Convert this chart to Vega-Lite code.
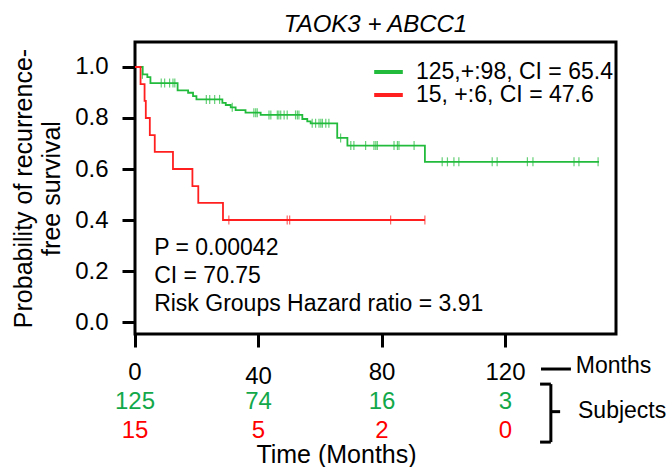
{
  "$schema": "https://vega.github.io/schema/vega-lite/v6.json",
  "padding": {"left": 10, "top": 11, "right": 0, "bottom": 0},
  "background": "white",
  "config": {
    "font": "Liberation Sans",
    "axis": {"labelColor": "black", "titleColor": "black", "tickColor": "black", "grid": false},
    "text": {"font": "Liberation Sans"}
  },
  "spacing": 5,
  "datasets": {
    "curves": [
      {"group": "125,+:98, CI = 65.4", "t": 0, "s": 1.0},
      {"group": "125,+:98, CI = 65.4", "t": 2.5, "s": 0.971},
      {"group": "125,+:98, CI = 65.4", "t": 4.0, "s": 0.96},
      {"group": "125,+:98, CI = 65.4", "t": 5.0, "s": 0.937},
      {"group": "125,+:98, CI = 65.4", "t": 13.8, "s": 0.908},
      {"group": "125,+:98, CI = 65.4", "t": 17.2, "s": 0.899},
      {"group": "125,+:98, CI = 65.4", "t": 18.8, "s": 0.886},
      {"group": "125,+:98, CI = 65.4", "t": 19.9, "s": 0.873},
      {"group": "125,+:98, CI = 65.4", "t": 28.3, "s": 0.859},
      {"group": "125,+:98, CI = 65.4", "t": 29.4, "s": 0.851},
      {"group": "125,+:98, CI = 65.4", "t": 31.0, "s": 0.842},
      {"group": "125,+:98, CI = 65.4", "t": 32.6, "s": 0.831},
      {"group": "125,+:98, CI = 65.4", "t": 35.8, "s": 0.821},
      {"group": "125,+:98, CI = 65.4", "t": 40.7, "s": 0.812},
      {"group": "125,+:98, CI = 65.4", "t": 54.2, "s": 0.796},
      {"group": "125,+:98, CI = 65.4", "t": 55.8, "s": 0.787},
      {"group": "125,+:98, CI = 65.4", "t": 56.9, "s": 0.779},
      {"group": "125,+:98, CI = 65.4", "t": 65.5, "s": 0.722},
      {"group": "125,+:98, CI = 65.4", "t": 68.8, "s": 0.692},
      {"group": "125,+:98, CI = 65.4", "t": 93.9, "s": 0.628},
      {"group": "125,+:98, CI = 65.4", "t": 150.3, "s": 0.628},
      {"group": "15, +:6, CI = 47.6", "t": 0, "s": 1.0},
      {"group": "15, +:6, CI = 47.6", "t": 1.8, "s": 0.933},
      {"group": "15, +:6, CI = 47.6", "t": 3.1, "s": 0.867},
      {"group": "15, +:6, CI = 47.6", "t": 3.5, "s": 0.8},
      {"group": "15, +:6, CI = 47.6", "t": 4.8, "s": 0.733},
      {"group": "15, +:6, CI = 47.6", "t": 6.4, "s": 0.667},
      {"group": "15, +:6, CI = 47.6", "t": 12.3, "s": 0.6},
      {"group": "15, +:6, CI = 47.6", "t": 18.6, "s": 0.533},
      {"group": "15, +:6, CI = 47.6", "t": 20.5, "s": 0.467},
      {"group": "15, +:6, CI = 47.6", "t": 28.5, "s": 0.4},
      {"group": "15, +:6, CI = 47.6", "t": 93.9, "s": 0.4}
    ],
    "censor": [
      {"group": "125,+:98, CI = 65.4", "t": 2.4, "s": 0.971},
      {"group": "125,+:98, CI = 65.4", "t": 8.5, "s": 0.937},
      {"group": "125,+:98, CI = 65.4", "t": 9.6, "s": 0.937},
      {"group": "125,+:98, CI = 65.4", "t": 11.2, "s": 0.937},
      {"group": "125,+:98, CI = 65.4", "t": 12.3, "s": 0.937},
      {"group": "125,+:98, CI = 65.4", "t": 12.9, "s": 0.937},
      {"group": "125,+:98, CI = 65.4", "t": 23.1, "s": 0.873},
      {"group": "125,+:98, CI = 65.4", "t": 24.2, "s": 0.873},
      {"group": "125,+:98, CI = 65.4", "t": 25.8, "s": 0.873},
      {"group": "125,+:98, CI = 65.4", "t": 27.4, "s": 0.873},
      {"group": "125,+:98, CI = 65.4", "t": 31.5, "s": 0.842},
      {"group": "125,+:98, CI = 65.4", "t": 38.5, "s": 0.821},
      {"group": "125,+:98, CI = 65.4", "t": 39.1, "s": 0.821},
      {"group": "125,+:98, CI = 65.4", "t": 39.6, "s": 0.821},
      {"group": "125,+:98, CI = 65.4", "t": 43.4, "s": 0.812},
      {"group": "125,+:98, CI = 65.4", "t": 44.0, "s": 0.812},
      {"group": "125,+:98, CI = 65.4", "t": 46.1, "s": 0.812},
      {"group": "125,+:98, CI = 65.4", "t": 46.6, "s": 0.812},
      {"group": "125,+:98, CI = 65.4", "t": 47.2, "s": 0.812},
      {"group": "125,+:98, CI = 65.4", "t": 48.3, "s": 0.812},
      {"group": "125,+:98, CI = 65.4", "t": 49.3, "s": 0.812},
      {"group": "125,+:98, CI = 65.4", "t": 52.0, "s": 0.812},
      {"group": "125,+:98, CI = 65.4", "t": 52.6, "s": 0.812},
      {"group": "125,+:98, CI = 65.4", "t": 53.1, "s": 0.812},
      {"group": "125,+:98, CI = 65.4", "t": 57.4, "s": 0.779},
      {"group": "125,+:98, CI = 65.4", "t": 58.5, "s": 0.779},
      {"group": "125,+:98, CI = 65.4", "t": 59.6, "s": 0.779},
      {"group": "125,+:98, CI = 65.4", "t": 60.2, "s": 0.779},
      {"group": "125,+:98, CI = 65.4", "t": 60.7, "s": 0.779},
      {"group": "125,+:98, CI = 65.4", "t": 61.8, "s": 0.779},
      {"group": "125,+:98, CI = 65.4", "t": 62.8, "s": 0.779},
      {"group": "125,+:98, CI = 65.4", "t": 66.6, "s": 0.722},
      {"group": "125,+:98, CI = 65.4", "t": 69.9, "s": 0.692},
      {"group": "125,+:98, CI = 65.4", "t": 70.9, "s": 0.692},
      {"group": "125,+:98, CI = 65.4", "t": 74.7, "s": 0.692},
      {"group": "125,+:98, CI = 65.4", "t": 77.4, "s": 0.692},
      {"group": "125,+:98, CI = 65.4", "t": 78.0, "s": 0.692},
      {"group": "125,+:98, CI = 65.4", "t": 78.5, "s": 0.692},
      {"group": "125,+:98, CI = 65.4", "t": 83.9, "s": 0.692},
      {"group": "125,+:98, CI = 65.4", "t": 85.0, "s": 0.692},
      {"group": "125,+:98, CI = 65.4", "t": 85.5, "s": 0.692},
      {"group": "125,+:98, CI = 65.4", "t": 90.4, "s": 0.692},
      {"group": "125,+:98, CI = 65.4", "t": 99.5, "s": 0.628},
      {"group": "125,+:98, CI = 65.4", "t": 101.2, "s": 0.628},
      {"group": "125,+:98, CI = 65.4", "t": 103.3, "s": 0.628},
      {"group": "125,+:98, CI = 65.4", "t": 104.9, "s": 0.628},
      {"group": "125,+:98, CI = 65.4", "t": 115.7, "s": 0.628},
      {"group": "125,+:98, CI = 65.4", "t": 117.3, "s": 0.628},
      {"group": "125,+:98, CI = 65.4", "t": 127.1, "s": 0.628},
      {"group": "125,+:98, CI = 65.4", "t": 128.9, "s": 0.628},
      {"group": "125,+:98, CI = 65.4", "t": 142.2, "s": 0.628},
      {"group": "125,+:98, CI = 65.4", "t": 143.8, "s": 0.628},
      {"group": "125,+:98, CI = 65.4", "t": 150.0, "s": 0.628},
      {"group": "15, +:6, CI = 47.6", "t": 30.4, "s": 0.4},
      {"group": "15, +:6, CI = 47.6", "t": 49.3, "s": 0.4},
      {"group": "15, +:6, CI = 47.6", "t": 50.1, "s": 0.4},
      {"group": "15, +:6, CI = 47.6", "t": 82.8, "s": 0.4},
      {"group": "15, +:6, CI = 47.6", "t": 93.9, "s": 0.4}
    ],
    "risk": [
      {"row": 0, "month": 0, "n": "0"},
      {"row": 0, "month": 40, "n": "40"},
      {"row": 0, "month": 80, "n": "80"},
      {"row": 0, "month": 120, "n": "120"},
      {"row": 1, "month": 0, "n": "125"},
      {"row": 1, "month": 40, "n": "74"},
      {"row": 1, "month": 80, "n": "16"},
      {"row": 1, "month": 120, "n": "3"},
      {"row": 2, "month": 0, "n": "15"},
      {"row": 2, "month": 40, "n": "5"},
      {"row": 2, "month": 80, "n": "2"},
      {"row": 2, "month": 120, "n": "0"}
    ]
  },
  "vconcat": [
    {
      "width": 481,
      "height": 292,
      "title": {"text": "TAOK3 + ABCC1", "fontStyle": "italic", "fontWeight": "normal", "fontSize": 24, "font": "Liberation Sans", "offset": 5, "anchor": "middle", "color": "black"},
      "view": {"stroke": "black", "strokeWidth": 3},
      "layer": [
        {
          "data": {"name": "curves"},
          "mark": {"type": "line", "interpolate": "step-after", "strokeWidth": 1.8},
          "encoding": {
            "x": {"field": "t", "type": "quantitative", "scale": {"domain": [0, 155.8], "nice": false, "zero": false},
              "axis": {"values": [0, 40, 80, 120], "labels": false, "domain": false, "tickSize": 13, "tickWidth": 3, "title": null}},
            "y": {"field": "s", "type": "quantitative", "scale": {"domain": [-0.047, 1.098], "nice": false, "zero": false},
              "axis": {"values": [0, 0.2, 0.4, 0.6, 0.8, 1.0], "format": ".1f", "domain": false, "tickSize": 13, "tickWidth": 3,
                "labelFontSize": 24, "labelPadding": 14, "labelFont": "Liberation Sans",
                "title": ["Probability of recurrence-", "free survival"], "titleFontSize": 25, "titleFontWeight": "normal",
                "titleLineHeight": 28, "titlePadding": 10, "titleFont": "Liberation Sans"}},
            "color": {"field": "group", "type": "nominal",
              "scale": {"domain": ["125,+:98, CI = 65.4", "15, +:6, CI = 47.6"], "range": ["#22bb3c", "#ff1f1f"]},
              "legend": {"orient": "none", "legendX": 237, "legendY": 19, "title": null, "symbolType": "stroke",
                "symbolStrokeWidth": 4, "symbolSize": 820, "labelFontSize": 23, "labelFont": "Liberation Sans",
                "labelOffset": 11, "labelLimit": 400, "clipHeight": 22, "padding": 0, "rowPadding": 0, "labelColor": "black"}}
          }
        },
        {
          "data": {"name": "censor"},
          "mark": {"type": "tick", "orient": "vertical", "size": 9, "thickness": 1.2},
          "encoding": {
            "x": {"field": "t", "type": "quantitative"},
            "y": {"field": "s", "type": "quantitative"},
            "color": {"field": "group", "type": "nominal", "legend": null}
          }
        },
        {
          "data": {"values": [{}]},
          "mark": {"type": "text", "align": "left", "baseline": "top", "fontSize": 23, "lineHeight": 28, "color": "black",
            "text": ["P = 0.00042", "CI = 70.75", "Risk Groups Hazard ratio = 3.91"]},
          "encoding": {
            "x": {"datum": 6.2},
            "y": {"datum": 0.333}
          }
        }
      ]
    },
    {
      "width": 481,
      "height": 87,
      "view": {"stroke": null},
      "layer": [
        {
          "data": {"name": "risk"},
          "transform": [{"filter": "datum.row == 0 && datum.month != 40"}],
          "mark": {"type": "text", "fontSize": 24, "color": "black", "baseline": "middle"},
          "encoding": {
            "x": {"field": "month", "type": "quantitative", "scale": {"domain": [0, 155.8], "nice": false, "zero": false},
              "axis": {"title": "Time (Months)", "domain": false, "ticks": false, "labels": false, "titleFontSize": 25,
                "titleFontWeight": "normal", "titleX": 201, "titlePadding": -3, "titleFont": "Liberation Sans"}},
            "y": {"field": "row", "type": "quantitative", "scale": {"domain": [-0.5, 2.5], "reverse": true, "nice": false, "zero": false}, "axis": null},
            "text": {"field": "n"}
          }
        },
        {
          "data": {"name": "risk"},
          "transform": [{"filter": "datum.row == 0 && datum.month == 40"}],
          "mark": {"type": "text", "fontSize": 24, "color": "black", "baseline": "middle", "dy": 4},
          "encoding": {
            "x": {"field": "month", "type": "quantitative"},
            "y": {"field": "row", "type": "quantitative"},
            "text": {"field": "n"}
          }
        },
        {
          "data": {"name": "risk"},
          "transform": [{"filter": "datum.row == 1"}],
          "mark": {"type": "text", "fontSize": 24, "color": "#12a84a", "baseline": "middle"},
          "encoding": {
            "x": {"field": "month", "type": "quantitative"},
            "y": {"field": "row", "type": "quantitative"},
            "text": {"field": "n"}
          }
        },
        {
          "data": {"name": "risk"},
          "transform": [{"filter": "datum.row == 2"}],
          "mark": {"type": "text", "fontSize": 24, "color": "#ff0000", "baseline": "middle"},
          "encoding": {
            "x": {"field": "month", "type": "quantitative"},
            "y": {"field": "row", "type": "quantitative"},
            "text": {"field": "n"}
          }
        },
        {
          "data": {"values": [{}]},
          "mark": {"type": "text", "fontSize": 23, "color": "black", "align": "left", "baseline": "middle", "text": "Months"},
          "encoding": {"x": {"datum": 142.8}, "y": {"datum": -0.22}}
        },
        {
          "data": {"values": [{}]},
          "mark": {"type": "rule", "strokeWidth": 3, "color": "black"},
          "encoding": {"x": {"datum": 131.5}, "x2": {"datum": 141.2}, "y": {"datum": -0.12}}
        },
        {
          "data": {"values": [{}]},
          "mark": {"type": "text", "fontSize": 23, "color": "black", "align": "left", "baseline": "middle", "text": "Subjects"},
          "encoding": {"x": {"datum": 143.5}, "y": {"datum": 1.33}}
        },
        {
          "data": {"values": [{}]},
          "mark": {"type": "rule", "strokeWidth": 3, "color": "black"},
          "encoding": {"x": {"datum": 134.7}, "y": {"datum": 0.4}, "y2": {"datum": 2.4}}
        },
        {
          "data": {"values": [{}]},
          "mark": {"type": "rule", "strokeWidth": 3, "color": "black"},
          "encoding": {"x": {"datum": 131.2}, "x2": {"datum": 134.7}, "y": {"datum": 0.4}}
        },
        {
          "data": {"values": [{}]},
          "mark": {"type": "rule", "strokeWidth": 3, "color": "black"},
          "encoding": {"x": {"datum": 131.2}, "x2": {"datum": 134.7}, "y": {"datum": 2.4}}
        },
        {
          "data": {"values": [{}]},
          "mark": {"type": "rule", "strokeWidth": 3, "color": "black"},
          "encoding": {"x": {"datum": 134.7}, "x2": {"datum": 137.7}, "y": {"datum": 1.35}}
        }
      ]
    }
  ]
}
